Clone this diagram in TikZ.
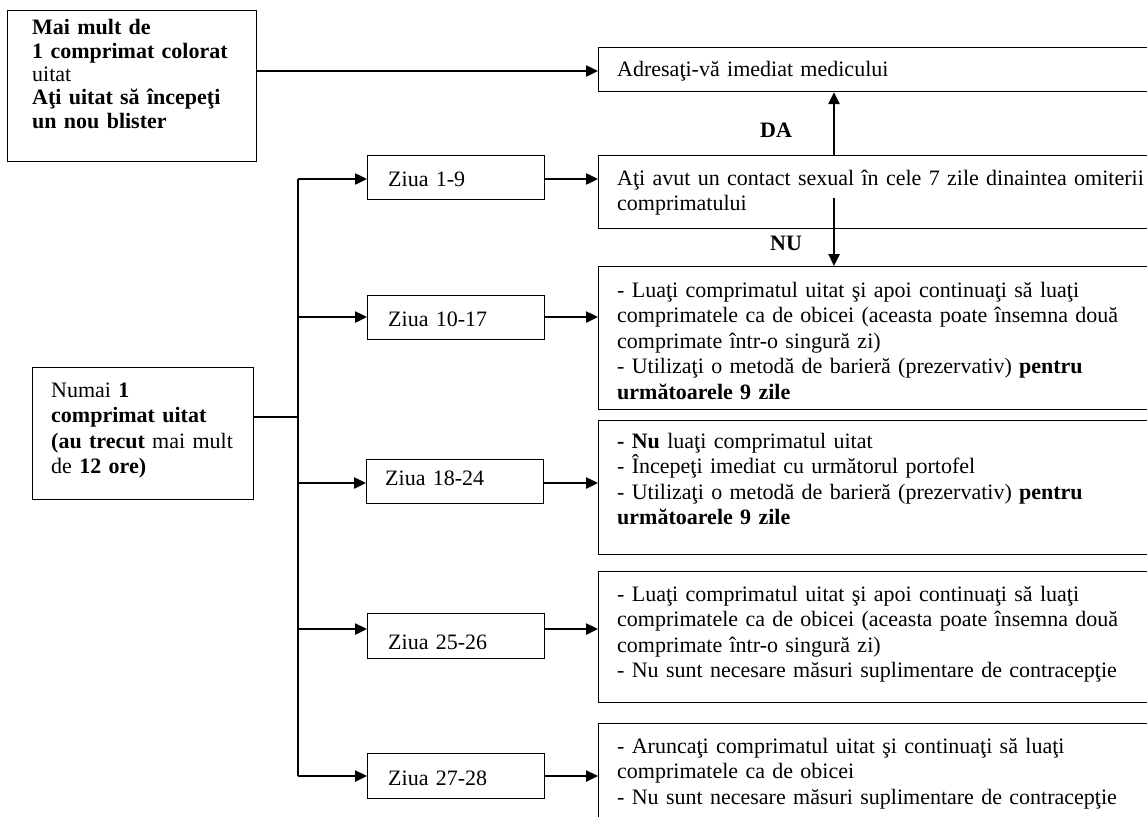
\documentclass[tikz,border=0pt]{standalone}
\usepackage{fontspec}
\setmainfont{Liberation Serif}
\usetikzlibrary{arrows.meta,calc}
\tikzset{
  box/.style={draw, line width=1.1pt, rectangle, inner sep=0pt, anchor=north west},
  txt/.style={anchor=base west, inner sep=0pt, align=left, text width=560pt, font=\fontsize{22}{25.5}\selectfont},
  lbl/.style={inner sep=0pt, font=\fontsize{22}{25.5}\selectfont\bfseries},
  conn/.style={line width=2.4pt, -{Triangle[length=12pt,width=11pt]}},
  thinline/.style={line width=1.2pt},
}
\begin{document}
\begin{tikzpicture}[x=1pt,y=-1pt]
\useasboundingbox[fill=white] (0,0) rectangle (1147,816);
% boxes
\node[box, minimum width=249pt, minimum height=151pt] (tl) at (7,10) {};
\node[box, minimum width=221pt, minimum height=132pt] (numai) at (32,367) {};
\node[box, minimum width=562pt, minimum height=44pt] (adr) at (598,47) {};
\node[box, minimum width=562pt, minimum height=73pt] (q) at (598,155) {};
\node[box, minimum width=562pt, minimum height=143pt] (b1017) at (598,266) {};
\node[box, minimum width=562pt, minimum height=134pt] (b1824) at (598,420) {};
\node[box, minimum width=562pt, minimum height=131pt] (b2526) at (598,571) {};
\node[box, minimum width=562pt, minimum height=130pt] (b2728) at (598,723) {};
\node[box, minimum width=177pt, minimum height=44pt] (z1) at (367,155) {};
\node[box, minimum width=177pt, minimum height=44pt] (z2) at (367,295) {};
\node[box, minimum width=177pt, minimum height=44pt] (z3) at (366,459) {};
\node[box, minimum width=177pt, minimum height=45pt] (z4) at (367,613) {};
\node[box, minimum width=177pt, minimum height=45pt] (z5) at (367,753) {};
% texts
\node[txt, font=\fontsize{22}{23.3}\selectfont] (tltext) at (32,35) {\textbf{Mai mult de}\\ \textbf{1 comprimat colorat}\\ uitat\\ \textbf{Aţi uitat să începeţi}\\ \textbf{un nou blister}};
\node[txt] (numaitext) at (51,397) {Numai \textbf{1}\\ \textbf{comprimat uitat}\\ \textbf{(au trecut} mai mult\\ de \textbf{12 ore)}};
\node[txt] (adrtext) at (617,77) {Adresaţi-vă imediat medicului};
\node[txt] (qtext) at (617,185) {Aţi avut un contact sexual în cele 7 zile dinaintea omiterii\\ comprimatului};
\node[txt] (t1017) at (617,297) {- Luaţi comprimatul uitat şi apoi continuaţi să luaţi\\ comprimatele ca de obicei (aceasta poate însemna două\\ comprimate într-o singură zi)\\ - Utilizaţi o metodă de barieră (prezervativ) \textbf{pentru}\\ \textbf{următoarele 9 zile}};
\node[txt] (t1824) at (617,448) {\textbf{- Nu} luaţi comprimatul uitat\\ - Începeţi imediat cu următorul portofel\\ - Utilizaţi o metodă de barieră (prezervativ) \textbf{pentru}\\ \textbf{următoarele 9 zile}};
\node[txt] (t2526) at (617,601) {- Luaţi comprimatul uitat şi apoi continuaţi să luaţi\\ comprimatele ca de obicei (aceasta poate însemna două\\ comprimate într-o singură zi)\\ - Nu sunt necesare măsuri suplimentare de contracepţie};
\node[txt] (t2728) at (617,753) {- Aruncaţi comprimatul uitat şi continuaţi să luaţi\\ comprimatele ca de obicei\\ - Nu sunt necesare măsuri suplimentare de contracepţie};
\node[txt] (tz1) at (388,186) {Ziua 1-9};
\node[txt] (tz2) at (388,326) {Ziua 10-17};
\node[txt] (tz3) at (385,485) {Ziua 18-24};
\node[txt] (tz4) at (388,649) {Ziua 25-26};
\node[txt] (tz5) at (388,785) {Ziua 27-28};
\node[lbl] (da) at (776,130) {DA};
\node[lbl] (nu) at (786,243) {NU};
% coordinates
\coordinate (ytl) at (0,71);
\coordinate (vtop) at (298,179);
\coordinate (v2) at (298,317);
\coordinate (v3) at (298,483);
\coordinate (v4) at (298,629);
\coordinate (vbot) at (298,776);
\coordinate (br) at (298,417);
\coordinate (dastart) at (834,155);
\coordinate (nustart) at (834,198);
% connectors
\draw[conn] (ytl -| tl.east) -- (ytl -| adr.west);
\draw[conn] (dastart) -- (dastart |- adr.south);
\draw[conn] (nustart) -- (nustart |- b1017.north);
\draw[thinline] (br -| numai.east) -- (br);
\draw[thinline] (vtop) -- (vbot);
\draw[conn] (vtop) -- (vtop -| z1.west);
\draw[conn] (v2) -- (v2 -| z2.west);
\draw[conn] (v3) -- (v3 -| z3.west);
\draw[conn] (v4) -- (v4 -| z4.west);
\draw[conn] (vbot) -- (vbot -| z5.west);
\draw[conn] (vtop -| z1.east) -- (vtop -| q.west);
\draw[conn] (v2 -| z2.east) -- (v2 -| b1017.west);
\draw[conn] (v3 -| z3.east) -- (v3 -| b1824.west);
\draw[conn] (v4 -| z4.east) -- (v4 -| b2526.west);
\draw[conn] (vbot -| z5.east) -- (vbot -| b2728.west);
\end{tikzpicture}
\end{document}
